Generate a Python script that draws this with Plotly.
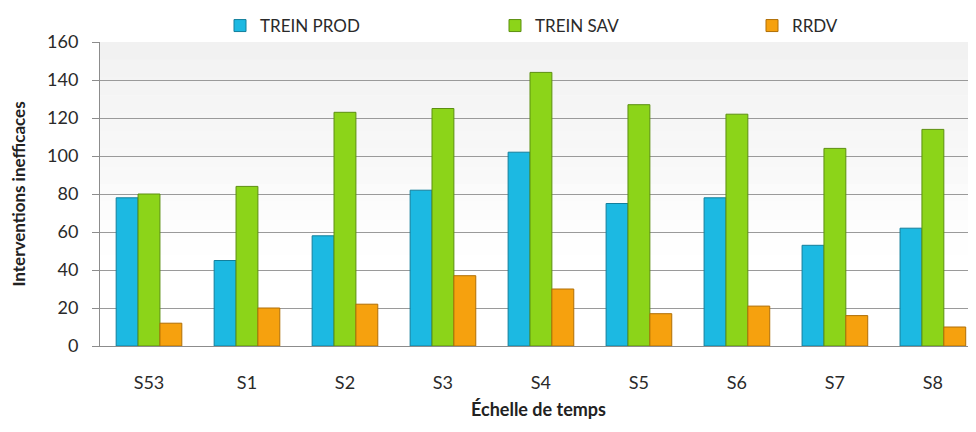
import plotly.graph_objects as go

categories = ["S53", "S1", "S2", "S3", "S4", "S5", "S6", "S7", "S8"]
trein_prod = [78, 45, 58, 82, 102, 75, 78, 53, 62]
trein_sav = [80, 84, 123, 125, 144, 127, 122, 104, 114]
rrdv = [12, 20, 22, 37, 30, 17, 21, 16, 10]
y_ticks = [0, 20, 40, 60, 80, 100, 120, 140, 160]

series = [
    ("TREIN PROD", trein_prod, "#1cb9e2", "#137f9c", "legend", 212),
    ("TREIN SAV", trein_sav, "#8cd419", "#5c8f10", "legend2", 487),
    ("RRDV", rrdv, "#f6a10e", "#b06f06", "legend3", 744),
]

W, H = 968, 416
FONT = "Lato, 'Open Sans', sans-serif"

fig = go.Figure()
legends = {}
for name, vals, col, edge, leg, lx in series:
    fig.add_trace(go.Bar(
        x=categories, y=vals, name=name, legend=leg,
        marker=dict(color=col, line=dict(color=edge, width=1)),
    ))
    legends[leg] = dict(orientation="h", xref="container", yref="container",
                        x=lx / W, xanchor="left", y=1, yanchor="top",
                        font=dict(size=17, family=FONT, color="#2a2a2a"),
                        bgcolor="rgba(0,0,0,0)")

# soft gray-to-white gradient in the plot background
n = 12
for i in range(n):
    fig.add_shape(type="rect", xref="paper", yref="paper",
                  x0=0, x1=1, y0=1 - (i + 1) / n * 0.7, y1=1 - i / n * 0.7,
                  fillcolor="rgba(225,225,225,%.3f)" % (0.45 * (1 - i / n)),
                  line=dict(width=0), layer="below")

fig.add_annotation(text="Échelle de temps", xref="paper", yref="paper",
                   x=0.5, y=-63 / 304, xanchor="center", yanchor="middle",
                   showarrow=False,
                   font=dict(size=18, family=FONT, weight="bold", color="#222"))

fig.update_layout(
    width=W, height=H,
    margin=dict(l=92, r=0, t=34, b=78, autoexpand=False),
    paper_bgcolor="white", plot_bgcolor="white",
    barmode="group", bargap=0.33, bargroupgap=0.0,
    font=dict(family=FONT, color="#2a2a2a"),
    showlegend=True,
    **legends,
)

fig.update_xaxes(
    range=[-0.5, 8.44], showline=True, linecolor="#8c8c8c", linewidth=1,
    ticks="", tickfont=dict(size=18, family=FONT, color="#2a2a2a"), ticklabelstandoff=20,
    automargin=False,
)
fig.update_yaxes(
    range=[0, 160], tickvals=y_ticks, showline=True, linecolor="#8c8c8c", linewidth=1,
    ticks="outside", ticklen=7, tickcolor="#8c8c8c", ticklabelstandoff=10,
    gridcolor="#9a9a9a", gridwidth=1, zeroline=False, automargin=False,
    tickfont=dict(size=18, family=FONT, color="#2a2a2a"),
    title=dict(text="Interventions inefficaces",
               font=dict(size=17, family=FONT, weight="bold", color="#222"),
               standoff=17),
)

fig.write_html("out.html")
